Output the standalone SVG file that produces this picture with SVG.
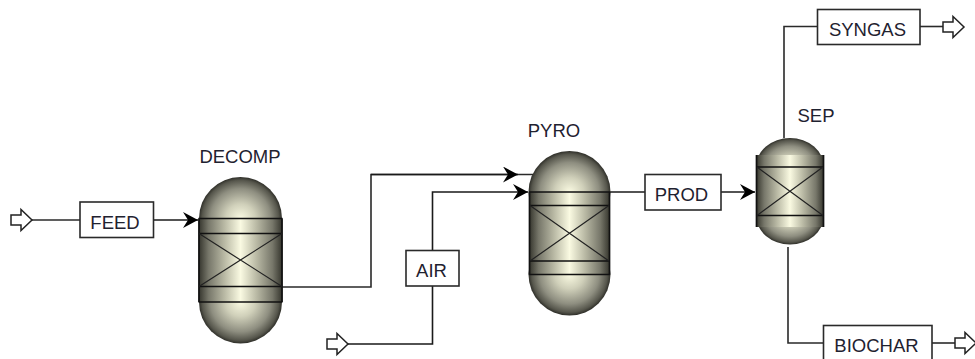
<svg xmlns="http://www.w3.org/2000/svg" xmlns:xlink="http://www.w3.org/1999/xlink" width="975" height="359" viewBox="0 0 975 359">
<style>
text{font-family:"Liberation Sans",Arial,sans-serif;font-size:18.5px;fill:#1f2230;text-anchor:middle}
.box{fill:#fff;stroke:#2a2a2a;stroke-width:1.6}
.ln{fill:none;stroke:#2a2a2a;stroke-width:1.6}
.arrowline{fill:none;stroke:#1a1a1a;stroke-width:1.6;marker-end:url(#head)}
.dome{fill:url(#domeG)}
.body{fill:url(#bodyG)}
.band{stroke:#111;stroke-width:1.7;fill:none}
.x{stroke:#222;stroke-width:1.2;fill:none}
.port{fill:#fff;stroke:#222;stroke-width:1.5}
</style>
<defs>
<linearGradient id="bodyG" x1="0" x2="1" y1="0" y2="0">
<stop offset="0" stop-color="#33332b"/><stop offset=".12" stop-color="#77776a"/><stop offset=".32" stop-color="#bdbda8"/><stop offset=".5" stop-color="#fafae2"/><stop offset=".68" stop-color="#bdbda8"/><stop offset=".88" stop-color="#77776a"/><stop offset="1" stop-color="#33332b"/>
</linearGradient>
<radialGradient id="domeG" cx=".5" cy=".5" r=".5">
<stop offset="0" stop-color="#fafae2"/><stop offset=".35" stop-color="#d0d0ba"/><stop offset=".72" stop-color="#8e8e80"/><stop offset=".92" stop-color="#56564c"/><stop offset="1" stop-color="#2e2e28"/>
</radialGradient>
<marker id="head" markerUnits="userSpaceOnUse" markerWidth="17" markerHeight="18" refX="15" refY="8" orient="auto">
<path d="M0 0L15 8L0 16L5 8Z" fill="#000"/>
</marker>
<path id="port" d="M0-5H10V-10.5L21 0L10 10.5V5H0Z"/>
</defs>
<g id="connectors">
<path class="arrowline" d="M153.500 220H198"/>
<path class="ln" d="M282 287H371V174.500H533"/>
<path class="arrowline" d="M371 174.500H518"/>
<path class="arrowline" d="M347 344H432.500V192H528"/>
<path class="arrowline" d="M610 192H755"/>
<path class="ln" d="M784 138V26.500H817"/>
<path class="ln" d="M920 26.500H943"/>
<path class="ln" d="M788 247V343H823"/>
<path class="ln" d="M932 343H955"/>
<path class="ln" d="M32 220H80"/>
</g>
<g id="DECOMP">
<ellipse class="dome" cx="240.500" cy="218.500" rx="41.500" ry="41.500"/>
<ellipse class="dome" cx="240.500" cy="302" rx="41.500" ry="41.500"/>
<rect class="body" x="198.500" y="218.500" width="84" height="83.500"/>
<path class="band" d="M198.500 218.500H282.500M198.500 233.500H282.500M198.500 286.500H282.500M198.500 302H282.500M199 218.500V302M282 218.500V302"/>
<path class="x" d="M199 233.500L282 286.500M282 233.500L199 286.500"/>
<text x="240" y="163">DECOMP</text>
</g>
<g id="PYRO">
<ellipse class="dome" cx="569.500" cy="192" rx="41" ry="41"/>
<ellipse class="dome" cx="569.500" cy="274.500" rx="41" ry="41"/>
<rect class="body" x="529" y="192" width="81" height="82.500"/>
<path class="band" d="M529 192H610M529 205.500H610M529 261H610M529 274.500H610M529.500 192V274.500M609.500 192V274.500"/>
<path class="x" d="M530 205.500L609 261M609 205.500L530 261"/>
<text x="554" y="137">PYRO</text>
</g>
<g id="SEP">
<ellipse class="dome" cx="790" cy="167" rx="34" ry="29"/>
<ellipse class="dome" cx="790" cy="215.500" rx="34" ry="29"/>
<rect class="body" x="756" y="155" width="68" height="72"/>
<path class="band" d="M756 167H824M756 215.500H824M756.500 155V227M823.500 155V227"/>
<path class="x" d="M757 167L823 215.500M823 167L757 215.500"/>
<text x="816" y="122">SEP</text>
</g>
<g id="FEED"><rect class="box" x="80" y="202" width="73.500" height="35.500"/><text x="115" y="229">FEED</text></g>
<g id="AIR"><rect class="box" x="406" y="250.500" width="53" height="35.500"/><text x="431.500" y="277">AIR</text></g>
<g id="PROD"><rect class="box" x="645" y="174.500" width="76" height="35.500"/><text x="681.500" y="201">PROD</text></g>
<g id="SYNGAS"><rect class="box" x="817.500" y="9.500" width="102.500" height="35"/><text x="867.500" y="36">SYNGAS</text></g>
<g id="BIOCHAR"><rect class="box" x="823.500" y="325.500" width="108.500" height="36"/><text x="876.500" y="352">BIOCHAR</text></g>
<g id="ports">
<use class="port" xlink:href="#port" href="#port" x="11" y="220"/>
<use class="port" xlink:href="#port" href="#port" x="327" y="344"/>
<use class="port" xlink:href="#port" href="#port" x="943" y="27"/>
<use class="port" xlink:href="#port" href="#port" x="955" y="343"/>
</g>
</svg>
